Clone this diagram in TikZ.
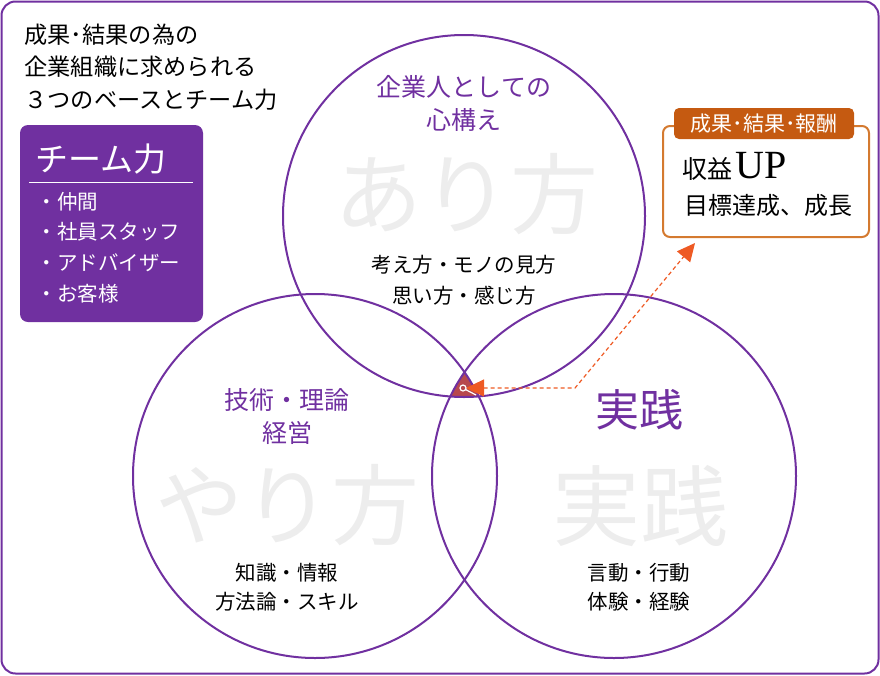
\documentclass[tikz,border=0pt]{standalone}
\usepackage{fontspec}
\newfontfamily\jp{Noto Sans CJK JP}
\newfontfamily\tms{Liberation Serif}
\usetikzlibrary{arrows.meta}
\definecolor{vio}{HTML}{7030A0}
\definecolor{ora}{HTML}{C55A11}
\definecolor{orl}{HTML}{D47A30}
\definecolor{arw}{HTML}{EE5A24}
\definecolor{corered}{RGB}{183,72,77}
\definecolor{wm}{HTML}{EDEDED}
\newcommand{\fsz}[1]{\fontsize{#1}{#1}\selectfont}

\begin{document}
\begin{tikzpicture}[x=1pt,y=-1pt,
  ring/.style={draw=vio,line width=2pt},
  wmark/.style={text=wm,font=\jp\fsz{88}},
  head/.style={text=vio,font=\jp\fsz{25}},
  body/.style={font=\jp\fsz{20.5}},
  item/.style={text=white,anchor=west,font=\jp\fsz{20.5}},
  intro/.style={anchor=west,font=\jp\fsz{23.2}}]
  \useasboundingbox (0,0) rectangle (880,675);
  \draw[vio,line width=2pt,rounded corners=14pt] (1.5,1.5) rectangle (878.5,673.5);
  % centres of the three rings
  \coordinate (T) at (464,216);
  \coordinate (L) at (315,476);
  \coordinate (R) at (614,476);
  \coordinate (core) at (463,388);
  \coordinate (bend) at (575,388);
  % part common to all three
  \begin{scope}
    \clip (T) circle (181pt);
    \clip (L) circle (182pt);
    \fill[corered] (R) circle (182pt);
  \end{scope}
  \draw[ring] (T) circle (181pt);
  \draw[ring] (L) circle (182pt);
  \draw[ring] (R) circle (182pt);
  % Title, upper left
  \node[intro] (h1) at (21,35) {成果･結果の為の};
  \node[intro] (h2) at (21,67) {企業組織に求められる};
  \node[intro] (h3) at (21,100) {３つのベースとチーム力};
  % team box
  \node[fill=vio,rounded corners=8pt,minimum width=183pt,minimum height=197pt] (team) at (111.5,223.5) {};
  \node[text=white,anchor=west,font=\jp\fsz{33}] (tt) at (32,159) {チーム力};
  \draw[white,line width=1pt] (29,182) -- (193,182);
  \node[item] (i1) at (33,202) {・仲間};
  \node[item] (i2) at (33,232) {・社員スタッフ};
  \node[item] (i3) at (33,263) {・アドバイザー};
  \node[item] (i4) at (33,294) {・お客様};
  % top ring
  \node[wmark] (W1) at (466,194) {あり方};
  \node[head]  (T1) at (464,87)  {企業人としての};
  \node[head]  (T2) at (464,120) {心構え};
  \node[body]  (T3) at (464,265) {考え方・モノの見方};
  \node[body]  (T4) at (464,296) {思い方・感じ方};
  % left ring
  \node[wmark] (W2) at (287,505) {やり方};
  \node[head]  (L1) at (287,400) {技術・理論};
  \node[head]  (L2) at (287,433) {経営};
  \node[body]  (L3) at (287,573) {知識・情報};
  \node[body]  (L4) at (287,602) {方法論・スキル};
  % right ring
  \node[wmark] (W3) at (640,506) {実践};
  \node[text=vio,font=\jp\fsz{44}] (R1) at (639,410) {実践};
  \node[body]  (R3) at (639,573) {言動・行動};
  \node[body]  (R4) at (639,602) {体験・経験};
  % result box
  \node[draw=orl,line width=2pt,rounded corners=7pt,minimum width=206pt,minimum height=111pt] (res) at (766,181.5) {};
  \node[fill=ora,rounded corners=5pt,minimum width=180pt,minimum height=31pt,text=white,font=\jp\fsz{21}] (tab) at (764,123.5) {成果･結果･報酬};
  \node[anchor=base west,inner sep=0pt] (r1) at (682,178) {{\jp\fsz{25}収益}\hspace{3pt}{\tms\fsz{40}UP}};
  \node[anchor=west,inner sep=0pt,font=\jp\fsz{24}] (r2) at (684,205) {目標達成、成長};
  \draw[arw,line width=1.2pt,dash pattern=on 4pt off 3pt,
    {Triangle[length=18pt,width=17pt]}-{Triangle[length=18pt,width=17pt]}]
    ([xshift=3pt]core) -- (bend) -- ([shift={(33,5)}]res.south west);
  \draw[white,line width=1.2pt] (core) circle (3pt);
  \draw[white,line width=1.2pt] ([shift={(2.5,1.5)}]core) -- ([shift={(13,7)}]core);
\end{tikzpicture}
\end{document}
